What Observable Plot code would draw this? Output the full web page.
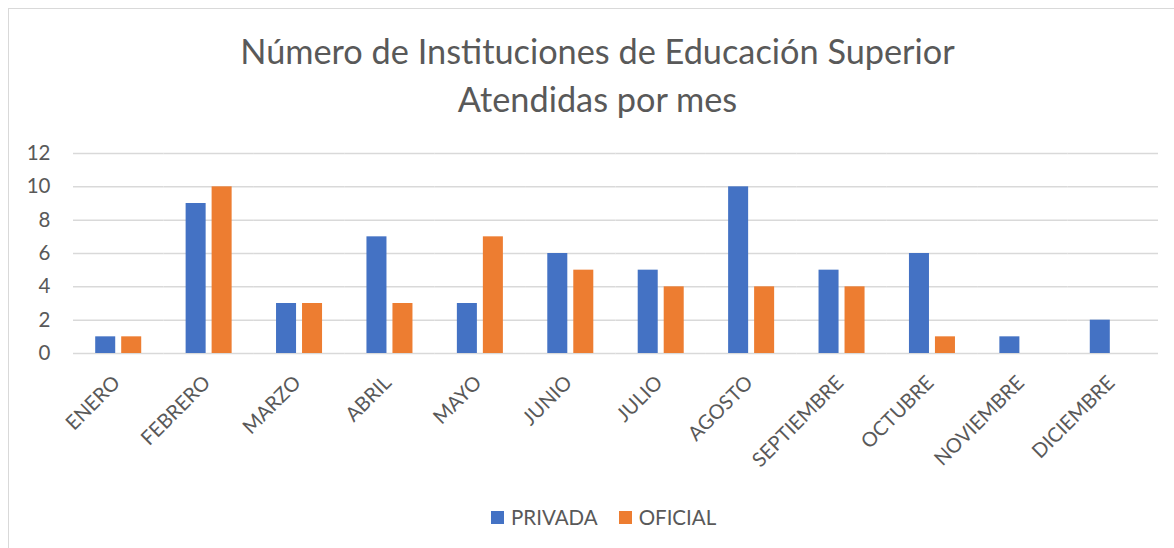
<!DOCTYPE html>
<html>
<head>
<meta charset="utf-8">
<script src="https://cdn.jsdelivr.net/npm/d3@7"></script>
<script src="https://cdn.jsdelivr.net/npm/@observablehq/plot@0.6"></script>
<style>
  html, body { margin: 0; padding: 0; background: #fff; overflow: hidden; }
  body { width: 1174px; height: 548px; position: relative; font-family: Lato, "Open Sans", sans-serif; color: #595959; }
  #frame { position: absolute; left: 8px; top: 8px; width: 1300px; height: 700px; border: 1.5px solid #d9d9d9; box-sizing: border-box; }
  #title { position: absolute; left: 0; width: 1195px; top: 27px; text-align: center; font-size: 34.3px; line-height: 48px; color: #595959; }
  #chart { position: absolute; left: 0; top: 140px; }
  #legend { position: absolute; top: 505px; left: 491px; display: flex; align-items: center; font-size: 20.5px; color: #595959; white-space: nowrap; }
  .item { display: flex; align-items: center; margin-right: 21px; }
  .sw { width: 13px; height: 13px; margin-right: 7px; display: inline-block; }
</style>
</head>
<body>
<div id="frame"></div>
<div id="title">Número de Instituciones de Educación Superior<br>Atendidas por mes</div>
<div id="chart"></div>
<div id="legend"></div>
<script>
const months = ["ENERO","FEBRERO","MARZO","ABRIL","MAYO","JUNIO","JULIO","AGOSTO","SEPTIEMBRE","OCTUBRE","NOVIEMBRE","DICIEMBRE"];
const seriesNames = ["PRIVADA","OFICIAL"];
const privada = [1,9,3,7,3,6,5,10,5,6,1,2];
const oficial = [1,10,3,3,7,5,4,4,4,1,null,null];
const colors = ["#4472C4","#ED7D31"];
const yTicks = [0,2,4,6,8,10,12];

const data = [];
months.forEach((m, i) => {
  data.push({month: m, serie: seriesNames[0], value: privada[i]});
  data.push({month: m, serie: seriesNames[1], value: oficial[i]});
});

const chart = Plot.plot({
  width: 1174,
  height: 340,
  marginLeft: 73,
  marginRight: 16,
  marginTop: 13,
  marginBottom: 127,
  style: {fontFamily: "Lato, 'Open Sans', sans-serif", color: "#595959", background: "transparent"},
  fx: {domain: months, padding: 0, round: false, label: null},
  x: {domain: seriesNames, paddingInner: 0.23, paddingOuter: 0.854, round: false, axis: null},
  y: {domain: [0, 12], ticks: yTicks, axis: null},
  color: {domain: seriesNames, range: colors},
  marks: [
    Plot.gridY(yTicks, {stroke: "#d9d9d9", strokeOpacity: 1, strokeWidth: 1.5}),
    Plot.axisY({ticks: yTicks, tickSize: 0, tickPadding: 23, fontSize: 20.5, fill: "#595959", label: null, facetAnchor: "left"}),
    Plot.axisFx({anchor: "bottom", tickRotate: -45, tickSize: 0, tickPadding: 26, dx: -2, fontSize: 20, fill: "#595959", label: null}),
    Plot.barY(data.filter(d => d.value != null), {fx: "month", x: "serie", y: "value", fill: "serie"})
  ]
});
document.getElementById("chart").appendChild(chart);

const legend = document.getElementById("legend");
seriesNames.forEach((s, i) => {
  const it = document.createElement("span");
  it.className = "item";
  const sw = document.createElement("span");
  sw.className = "sw";
  sw.style.background = colors[i];
  it.appendChild(sw);
  it.appendChild(document.createTextNode(s));
  legend.appendChild(it);
});
</script>
</body>
</html>
